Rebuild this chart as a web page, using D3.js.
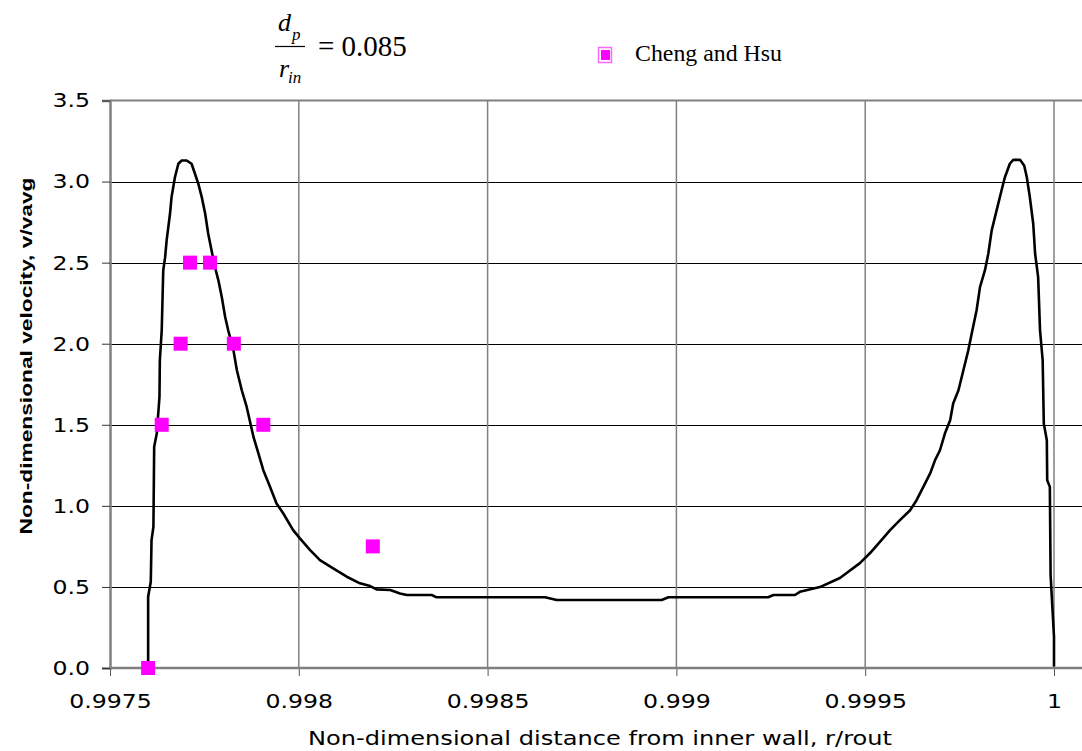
<!DOCTYPE html>
<html><head><meta charset="utf-8">
<script src="https://cdn.jsdelivr.net/npm/d3@7"></script>
<style>body{margin:0;background:#fff}svg{display:block}</style>
</head><body>
<svg id="c" width="1082" height="751"></svg>
<script>
// Model curve (r/rout, v/vavg)
const curveX = [0.997601,0.997601,0.997608,0.997610,0.997615,0.997617,0.997624,0.997631,0.997632,0.997637,0.997641,0.997646,0.997650,0.997659,0.997663,0.997672,0.997681,0.997690,0.997703,0.997716,0.997725,0.997734,0.997743,0.997752,0.997760,0.997769,0.997778,0.997787,0.997796,0.997805,0.997813,0.997827,0.997836,0.997849,0.997862,0.997880,0.997893,0.997906,0.997924,0.997941,0.997959,0.997985,0.998003,0.998030,0.998056,0.998091,0.998127,0.998162,0.998189,0.998206,0.998242,0.998268,0.998286,0.998352,0.998365,0.998652,0.998683,0.998961,0.998979,0.999243,0.999257,0.999314,0.999327,0.999380,0.999433,0.999486,0.999513,0.999539,0.999566,0.999592,0.999619,0.999636,0.999654,0.999672,0.999685,0.999698,0.999711,0.999725,0.999733,0.999747,0.999760,0.999773,0.999782,0.999795,0.999804,0.999817,0.999826,0.999835,0.999848,0.999861,0.999870,0.999883,0.999892,0.999910,0.999921,0.999928,0.999936,0.999945,0.999950,0.999958,0.999963,0.999970,0.999973,0.999981,0.999982,0.999989,0.999991,1.000000,1.000000];
const curveV = [0.00,0.439,0.532,0.789,0.871,1.364,1.448,1.672,1.898,2.083,2.452,2.534,2.637,2.803,2.904,3.027,3.110,3.130,3.130,3.110,3.048,2.986,2.904,2.803,2.680,2.575,2.473,2.391,2.288,2.165,2.083,1.959,1.836,1.713,1.610,1.425,1.323,1.220,1.117,1.015,0.953,0.850,0.799,0.727,0.665,0.614,0.563,0.522,0.505,0.485,0.481,0.460,0.450,0.450,0.436,0.436,0.419,0.419,0.436,0.436,0.450,0.450,0.470,0.499,0.555,0.647,0.709,0.778,0.850,0.912,0.973,1.035,1.117,1.200,1.282,1.343,1.446,1.528,1.631,1.713,1.836,1.959,2.062,2.206,2.349,2.452,2.555,2.699,2.822,2.945,3.027,3.110,3.134,3.134,3.099,3.027,2.904,2.740,2.555,2.411,2.083,1.898,1.508,1.405,1.158,1.117,0.573,0.193,0.01];
// Cheng and Hsu data
const expX = [0.997601,0.997637,0.997687,0.997712,0.997765,0.997828,0.997906,0.998196];
const expV = [0.00,1.5,2.0,2.5,2.5,2.0,1.5,0.75];
const xTicks = [0.9975,0.998,0.9985,0.999,0.9995,1];
const xTickLabels = ["0.9975","0.998","0.9985","0.999","0.9995","1"];
const yTicks = [0,0.5,1,1.5,2,2.5,3,3.5];
const yTickLabels = ["0.0","0.5","1.0","1.5","2.0","2.5","3.0","3.5"];
const seriesName = "Cheng and Hsu";

const svg = d3.select("#c");
const L = 110, T = 100.5, B = 668;
const x = d3.scaleLinear().domain([0.9975, 1]).range([L, 1054]);
const y = d3.scaleLinear().domain([0, 3.5]).range([B, T]);
const R = 1090;
const stretch = 1.18;
function widen(sel){ sel.each(function(){ const w = this.getComputedTextLength(); d3.select(this).attr("textLength", w*stretch).attr("lengthAdjust","spacingAndGlyphs"); }); }

// grid
svg.append("g").selectAll("line").data(yTicks.filter(d=>d>0 && d<3.5)).join("line")
  .attr("x1", L).attr("x2", R).attr("y1", d=>Math.round(y(d))+0.5).attr("y2", d=>Math.round(y(d))+0.5)
  .attr("stroke", "#000").attr("stroke-width", 1);
svg.append("g").selectAll("line").data(xTicks.slice(1)).join("line")
  .attr("y1", T).attr("y2", B).attr("x1", d=>x(d)).attr("x2", d=>x(d))
  .attr("stroke", "#808080").attr("stroke-width", 1.5);
// top border
svg.append("line").attr("x1", L).attr("x2", R).attr("y1", T).attr("y2", T).attr("stroke", "#808080").attr("stroke-width", 2);

// axes
const yAxis = d3.axisLeft(y).tickValues(yTicks).tickFormat((d,i)=>yTickLabels[i]).tickSize(8).tickPadding(12);
const gy = svg.append("g").attr("transform", `translate(${L},0)`).call(yAxis);
gy.select(".domain").attr("stroke", "#808080").attr("stroke-width", 2.5);
gy.selectAll(".tick line").attr("stroke", "#333");
gy.selectAll("text").attr("font-family", "DejaVu Sans").attr("font-size", 20).attr("fill", "#000").call(widen);

const xAxis = d3.axisBottom(x).tickValues(xTicks).tickFormat((d,i)=>xTickLabels[i]).tickSize(8).tickPadding(18);
const gx = svg.append("g").attr("transform", `translate(0,${B})`).call(xAxis);
gx.select(".domain").remove();
gx.append("line").attr("x1", L).attr("x2", R).attr("y1", 0).attr("y2", 0).attr("stroke", "#808080").attr("stroke-width", 2.5);
gx.selectAll(".tick line").attr("stroke", "#555");
gx.selectAll("text").attr("font-family", "DejaVu Sans").attr("font-size", 20).attr("fill", "#000").call(widen);

// curve
const pts = curveX.map((d,i)=>[d, curveV[i]]);
svg.append("path").datum(pts)
  .attr("d", d3.line().x(d=>x(d[0])).y(d=>y(d[1])))
  .attr("fill", "none").attr("stroke", "#000").attr("stroke-width", 2.6).attr("stroke-linejoin", "round");

// markers
const ms = 14;
svg.append("g").selectAll("rect").data(expX.map((d,i)=>[d, expV[i]])).join("rect")
  .attr("x", d=>x(d[0])-ms/2).attr("y", d=>y(d[1])-ms/2).attr("width", ms).attr("height", ms)
  .attr("fill", "#ff00ff");

// axis titles
svg.append("text").attr("x", 600).attr("y", 745).attr("text-anchor", "middle")
  .attr("font-family", "DejaVu Sans").attr("font-size", 19)
  .attr("textLength", 584).attr("lengthAdjust", "spacingAndGlyphs")
  .text("Non-dimensional distance from inner wall, r/rout");
svg.append("text").attr("transform", "translate(32,356) rotate(-90)").attr("text-anchor", "middle")
  .attr("font-family", "Liberation Sans").attr("font-weight", "bold").attr("font-size", 16)
  .attr("textLength", 357).attr("lengthAdjust", "spacingAndGlyphs")
  .text("Non-dimensional velocity, v/vavg");

// legend
const lg = svg.append("g");
lg.append("rect").attr("x", 598.5).attr("y", 47.5).attr("width", 13).attr("height", 15).attr("fill", "#fff").attr("stroke", "#ff66ff").attr("stroke-width", 1.5);
lg.append("rect").attr("x", 601).attr("y", 50).attr("width", 9).attr("height", 10).attr("fill", "#ff00ff");
lg.append("text").attr("x", 635).attr("y", 61).attr("font-family", "Liberation Serif").attr("font-size", 23)
  .attr("textLength", 147).attr("lengthAdjust", "spacingAndGlyphs").text(seriesName);

// formula
const f = svg.append("g").attr("font-family", "Liberation Serif").attr("fill", "#000");
f.append("text").attr("x", 278).attr("y", 31).attr("font-style", "italic").attr("font-size", 26).text("d");
f.append("text").attr("x", 292).attr("y", 40).attr("font-style", "italic").attr("font-size", 17).text("p");
f.append("line").attr("x1", 275).attr("x2", 305).attr("y1", 46.5).attr("y2", 46.5).attr("stroke", "#000").attr("stroke-width", 1.2);
f.append("text").attr("x", 279).attr("y", 77).attr("font-style", "italic").attr("font-size", 26).text("r");
f.append("text").attr("x", 288).attr("y", 83).attr("font-style", "italic").attr("font-size", 17).text("in");
f.append("text").attr("x", 318).attr("y", 56).attr("font-size", 29).text("= 0.085");
</script>
</body></html>
